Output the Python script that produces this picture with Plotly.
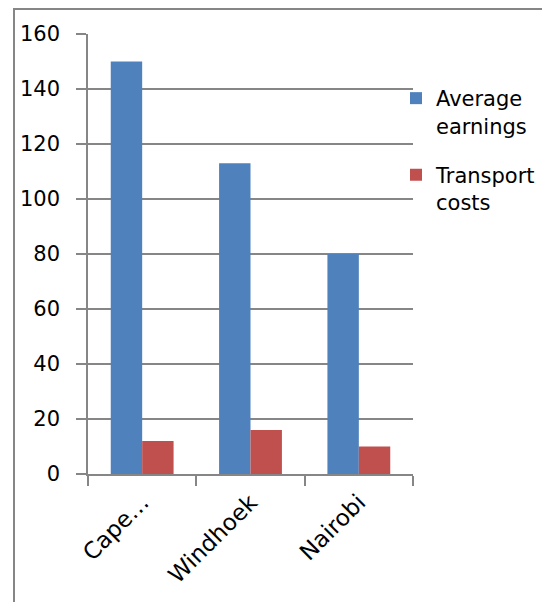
import plotly.graph_objects as go

categories = ["Cape…", "Windhoek", "Nairobi"]
average_earnings = [150, 113, 80]
transport_costs = [12, 16, 10]
y_ticks = [0, 20, 40, 60, 80, 100, 120, 140, 160]

FONT = "DejaVu Sans"
GRID = "#868686"
FS = 21

fig = go.Figure()
fig.add_trace(go.Bar(x=categories, y=average_earnings, name="Average<br>earnings",
                     legendgroup="a",
                     marker=dict(color="#4F81BD", line=dict(width=0))))
fig.add_trace(go.Bar(x=categories, y=transport_costs, name="Transport<br>costs",
                     legendgroup="b",
                     marker=dict(color="#C0504D", line=dict(width=0))))

W, H = 542, 602
L, R, T, B = 88, 413, 34, 474
fig.update_layout(
    width=W, height=H,
    margin=dict(l=L, r=W - R, t=T, b=H - B, pad=0, autoexpand=False),
    paper_bgcolor="white", plot_bgcolor="white",
    barmode="group", bargap=0.42, bargroupgap=0,
    font=dict(family=FONT, size=FS, color="#000000"),
    showlegend=True,
    legend=dict(x=(396 - L) / (R - L), y=(B - 78) / (B - T), xanchor="left", yanchor="top",
                font=dict(family=FONT, size=FS, color="#000000"),
                bgcolor="rgba(0,0,0,0)", tracegroupgap=19, itemwidth=30,
                traceorder="grouped", valign="top"),
    xaxis=dict(showline=True, linecolor=GRID, linewidth=1.5, ticks="outside",
               tickson="boundaries", ticklen=10, tickcolor=GRID, tickwidth=1.5,
               tickangle=-45, showgrid=False, fixedrange=True,
               tickfont=dict(family=FONT, size=23, color="#000000"),
               ticklabelstandoff=4),
    yaxis=dict(range=[0, 160], tickvals=y_ticks, showline=True, linecolor=GRID, linewidth=1.5,
               ticks="outside", ticklen=10, tickcolor=GRID, tickwidth=1.5,
               showgrid=True, gridcolor=GRID, gridwidth=1.5, zeroline=False,
               ticklabelstandoff=12, fixedrange=True),
    shapes=[dict(type="rect", xref="paper", yref="paper",
                 x0=(14 - L) / (R - L), x1=(W + 20 - L) / (R - L),
                 y0=(B - (H + 20)) / (B - T), y1=(B - 9) / (B - T),
                 line=dict(color=GRID, width=2), fillcolor="rgba(0,0,0,0)", layer="below")],
)

fig.write_html("out.html")
